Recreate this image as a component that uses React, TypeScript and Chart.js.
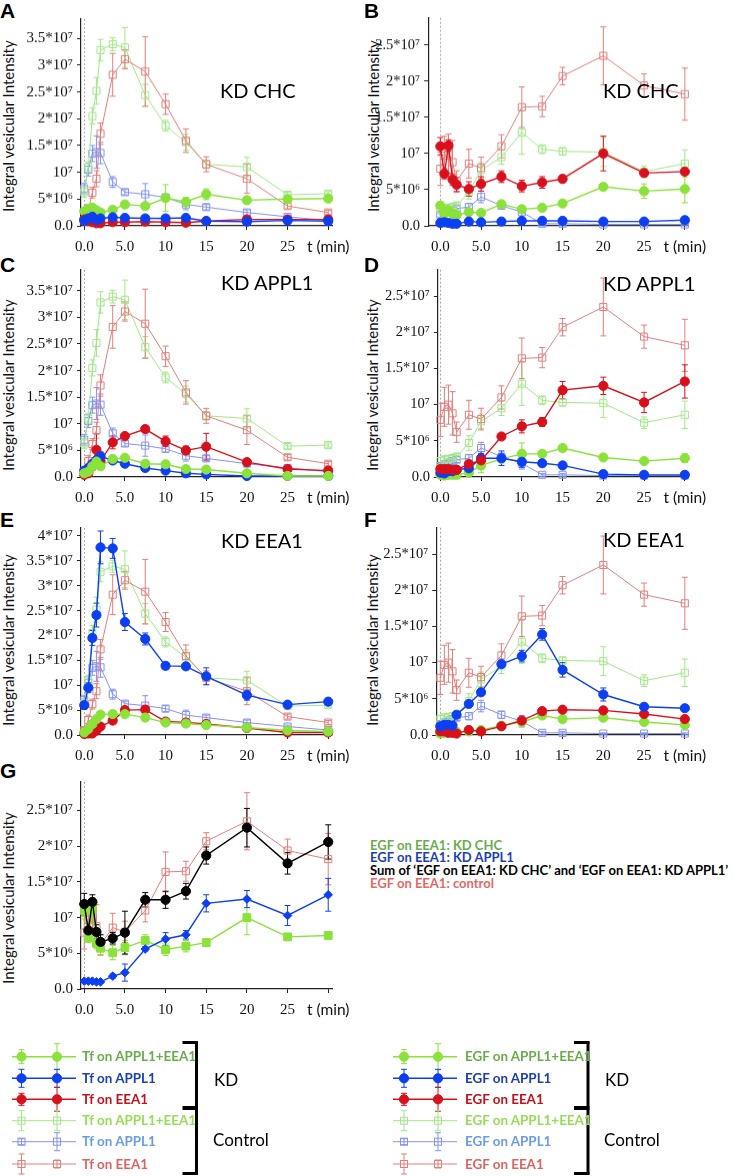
import React, { useEffect, useRef } from "react";
import { Chart, registerables } from "chart.js";
Chart.register(...registerables);

// ---------- data (intensities in units of 10^6) ----------
const TIMES = [0, 0.5, 1, 1.5, 2, 3.5, 5, 7.5, 10, 12.5, 15, 20, 25, 30];
const X_TICKS = [0, 5, 10, 15, 20, 25, 30];
const X_TICK_LABELS = ["0.0", "5.0", "10", "15", "20", "25", "t (min)"];
const Y_TICK_VALUES = [0, 5, 10, 15, 20, 25, 30, 35, 40];
const Y_TICK_LABELS = ["0.0", "5*10⁶", "10⁷", "1.5*10⁷", "2*10⁷", "2.5*10⁷", "3*10⁷", "3.5*10⁷", "4*10⁷"];

// Tf controls
const TF_CTL_BOTH = [6.3, 11, 20.5, 25.2, 32.8, 33.9, 33.3, 24.4, 18.7, 15.6, 11.5, 11, 5.8, 6];
const TF_CTL_BOTH_ERR = [1, 1, 1.5, 2.5, 2, 1.2, 3.7, 2, 1, 1.5, 0.8, 1.8, 0.5, 0.4];
const TF_CTL_APPL1 = [7, 10.5, 13.5, 13.8, 13.6, 8.2, 6.3, 5.9, 5.3, 4, 3.5, 2.5, 1.7, 1];
const TF_CTL_APPL1_ERR = [1, 1.2, 1.5, 3, 2, 1, 0.5, 2, 0.6, 1, 0.5, 0.5, 0.3, 0.3];
const TF_CTL_EEA1 = [1, 3, 6.2, 8.8, 17.2, 28.2, 31.1, 28.8, 22.7, 15.9, 11.5, 8.8, 3.7, 2.5];
const TF_CTL_EEA1_ERR = [0.5, 1, 1, 1.5, 2, 4, 1.8, 6.5, 1.9, 2.2, 1.4, 2.7, 0.5, 0.4];
// Tf KD CHC
const TF_CHC_BOTH = [2.7, 3.2, 3.4, 2.9, 2.5, 3.0, 4.0, 3.7, 5.2, 4.5, 5.9, 4.8, 5.0, 5.1];
const TF_CHC_BOTH_ERR = [0.5, 0.5, 0.5, 0.5, 0.4, 0.4, 0.4, 0.4, 2.5, 0.8, 1.0, 0.4, 0.3, 0.4];
const TF_CHC_APPL1 = [1.0, 1.4, 1.7, 1.1, 1.4, 1.6, 1.5, 1.4, 1.4, 1.5, 0.9, 0.8, 1.0, 0.9];
const TF_CHC_APPL1_ERR = [0.3, 0.3, 0.3, 0.3, 0.3, 0.3, 0.3, 0.3, 0.3, 0.3, 0.2, 0.2, 0.2, 0.2];
const TF_CHC_EEA1 = [1.2, 0.9, 0.7, 0.5, 0.5, 0.7, 0.7, 0.8, 0.7, 0.6, 0.9, 1.2, 1.2, 1.2];
const TF_CHC_EEA1_ERR = [0.2, 0.2, 0.2, 0.2, 0.2, 0.2, 0.2, 0.2, 0.2, 0.2, 0.2, 0.2, 0.2, 0.2];
// Tf KD APPL1
const TF_APPL1_BOTH = [0.7, 1.0, 2.0, 2.9, 2.0, 3.4, 3.6, 2.5, 2.4, 1.5, 1.4, 0.7, 0.2, 0.2];
const TF_APPL1_BOTH_ERR = [0.2, 0.3, 0.5, 0.6, 0.5, 0.3, 0.3, 0.3, 0.3, 0.2, 0.2, 0.2, 0.1, 0.1];
const TF_APPL1_APPL1 = [1.2, 1.7, 2.5, 3.2, 3.9, 3.1, 2.5, 1.7, 1.2, 0.7, 0.5, 0.2, 0.2, 0.2];
const TF_APPL1_APPL1_ERR = [0.2, 0.3, 0.4, 0.6, 0.8, 0.4, 0.3, 0.3, 0.2, 0.2, 0.1, 0.1, 0.1, 0.1];
const TF_APPL1_EEA1 = [0.4, 0.7, 2.0, 5.1, 3.0, 6.5, 7.7, 9.0, 6.7, 5.0, 5.7, 2.8, 1.5, 1.2];
const TF_APPL1_EEA1_ERR = [0.3, 0.3, 0.8, 3, 1, 1.2, 0.5, 0.6, 1.0, 0.8, 2.5, 0.3, 0.2, 0.2];
// Tf KD EEA1
const TF_EEA1_BOTH = [0.5, 1.2, 2.2, 3.2, 4.1, 4.2, 4.2, 3.5, 2.5, 2.3, 2.0, 1.5, 0.9, 0.7];
const TF_EEA1_BOTH_ERR = [0.2, 0.3, 0.3, 0.3, 0.3, 0.3, 0.3, 0.3, 0.3, 0.3, 0.2, 0.2, 0.2, 0.2];
const TF_EEA1_APPL1 = [6.0, 9.5, 19.5, 24.1, 37.7, 37.5, 22.7, 19.3, 13.9, 13.8, 11.8, 8.0, 6.1, 6.7];
const TF_EEA1_APPL1_ERR = [0.8, 1.0, 1.5, 2.4, 3.3, 2.0, 1.7, 1.2, 0.7, 0.6, 1.7, 1.0, 0.4, 0.4];
const TF_EEA1_EEA1 = [0.2, 0.3, 0.3, 0.9, 1.7, 2.9, 5.0, 5.1, 2.7, 2.5, 2.2, 1.4, 0.5, 0.5];
const TF_EEA1_EEA1_ERR = [0.2, 0.2, 0.2, 0.3, 0.3, 0.3, 0.4, 0.4, 0.3, 0.3, 0.2, 0.2, 0.2, 0.2];

// EGF controls
const EGF_CTL_BOTH = [2.2, 2.4, 2.5, 2.6, 2.8, 4.7, 7.7, 9.5, 12.9, 10.6, 10.3, 10.2, 7.5, 8.6];
const EGF_CTL_BOTH_ERR = [0.5, 0.5, 0.5, 0.5, 0.5, 1.0, 1.0, 1.0, 3.0, 0.6, 0.5, 2.0, 0.8, 1.9];
const EGF_CTL_APPL1 = [1.5, 1.8, 2.0, 2.2, 2.4, 2.6, 4.0, 2.8, 1.9, 0.3, 0.3, 0.2, 0.2, 0.2];
const EGF_CTL_APPL1_ERR = [0.3, 0.3, 0.3, 0.4, 0.4, 0.5, 0.8, 0.5, 0.8, 0.2, 0.2, 0.1, 0.1, 0.1];
const EGF_CTL_EEA1 = [7.9, 9.7, 10.0, 8.8, 6.2, 8.6, 8.0, 11.0, 16.4, 16.5, 20.7, 23.5, 19.4, 18.2];
const EGF_CTL_EEA1_ERR = [2.3, 2.7, 2.7, 3.0, 1.4, 2.0, 1.5, 1.6, 2.8, 1.4, 1.2, 4.0, 1.6, 3.6];
// EGF KD CHC
const EGF_CHC_BOTH = [2.8, 1.7, 2.2, 1.7, 1.5, 1.9, 1.8, 3.0, 2.3, 2.5, 3.1, 5.4, 4.8, 5.1];
const EGF_CHC_BOTH_ERR = [0.5, 0.5, 0.5, 0.5, 0.3, 0.3, 0.3, 0.3, 0.3, 0.3, 0.3, 0.3, 1.0, 1.9];
const EGF_CHC_APPL1 = [0.4, 0.5, 0.4, 0.3, 0.3, 0.6, 0.5, 0.6, 0.7, 0.7, 0.7, 0.6, 0.6, 0.8];
const EGF_CHC_APPL1_ERR = [0.2, 0.2, 0.2, 0.2, 0.2, 0.2, 0.2, 0.2, 0.2, 0.2, 0.2, 0.2, 0.2, 0.5];
const EGF_CHC_EEA1 = [11.0, 7.2, 11.1, 6.4, 5.7, 5.1, 5.8, 6.8, 5.5, 6.0, 6.5, 10.0, 7.3, 7.5];
const EGF_CHC_EEA1_ERR = [1.2, 0.7, 0.8, 0.8, 1.0, 1.0, 1.0, 0.8, 0.8, 0.8, 0.5, 2.4, 0.4, 0.5];
// EGF KD APPL1
const EGF_APPL1_BOTH = [0.3, 0.2, 0.3, 0.3, 0.3, 0.6, 1.6, 2.5, 3.2, 3.2, 4.0, 2.7, 2.2, 2.6];
const EGF_APPL1_BOTH_ERR = [0.1, 0.1, 0.1, 0.1, 0.1, 0.2, 1.0, 0.3, 1.5, 0.3, 0.3, 0.3, 0.3, 0.6];
const EGF_APPL1_APPL1 = [0.6, 0.5, 0.8, 0.8, 1.0, 1.2, 2.6, 2.6, 2.1, 1.9, 1.6, 0.4, 0.3, 0.3];
const EGF_APPL1_APPL1_ERR = [0.2, 0.2, 0.2, 0.2, 0.2, 0.3, 0.6, 1.0, 0.8, 0.4, 0.3, 0.1, 0.1, 0.1];
const EGF_APPL1_EEA1 = [1.1, 1.1, 1.1, 1.0, 1.0, 1.8, 2.3, 5.6, 7.0, 7.6, 12.0, 12.6, 10.3, 13.2];
const EGF_APPL1_EEA1_ERR = [0.2, 0.2, 0.2, 0.2, 0.2, 0.3, 1.2, 0.3, 0.9, 0.6, 1.2, 1.2, 1.4, 2.3];
// EGF KD EEA1
const EGF_EEA1_BOTH = [0.2, 0.3, 0.4, 0.4, 0.4, 0.5, 0.7, 1.3, 1.8, 2.7, 2.2, 2.4, 1.8, 1.4];
const EGF_EEA1_BOTH_ERR = [0.1, 0.1, 0.1, 0.1, 0.1, 0.1, 0.2, 0.3, 0.6, 0.3, 0.3, 0.3, 0.3, 0.3];
const EGF_EEA1_APPL1 = [1.2, 1.4, 1.4, 1.3, 2.8, 4.3, 5.9, 9.8, 10.9, 13.9, 9.0, 5.6, 3.9, 3.7];
const EGF_EEA1_APPL1_ERR = [0.3, 0.3, 0.3, 0.3, 0.3, 0.3, 0.4, 0.4, 0.8, 0.8, 1.0, 0.9, 0.3, 0.3];
const EGF_EEA1_EEA1 = [0.5, 0.5, 0.3, 0.3, 0.2, 0.7, 0.5, 1.2, 2.0, 3.3, 3.5, 3.4, 2.9, 2.2];
const EGF_EEA1_EEA1_ERR = [0.1, 0.1, 0.1, 0.1, 0.1, 0.2, 0.2, 0.2, 0.3, 0.3, 0.3, 0.3, 0.3, 0.3];
// Panel G: sum of KD CHC and KD APPL1 (EGF on EEA1)
const EGF_SUM = [11.9, 8.2, 12.2, 8.0, 6.6, 7.1, 7.9, 12.5, 12.5, 13.7, 18.7, 22.6, 17.6, 20.6];
const EGF_SUM_ERR = [1.5, 1.0, 1.0, 1.0, 1.0, 0.8, 3.0, 1.0, 1.2, 1.1, 1.2, 2.7, 1.5, 2.4];

// ---------- styles ----------
const C_KD_BOTH = "#8ae23a";
const C_KD_APPL1 = "#0d3ff2";
const C_KD_EEA1 = "#d8101c";
const C_CTL_BOTH = "#a2e889";
const C_CTL_APPL1 = "#8592ef";
const C_CTL_EEA1 = "#e27f7c";
const C_SUM = "#000000";
const SERIF = "'Liberation Serif', 'Times New Roman', serif";
const SANS = "Lato, 'Open Sans', sans-serif";

type Kind = "kd" | "ctl" | "sq" | "dia";
function ds(values: number[], errors: number[], color: string, kind: Kind) {
  const base: any = {
    data: TIMES.map((t, i) => ({ x: t, y: values[i] })),
    errors,
    borderColor: color,
    clip: false,
    tension: 0,
    pointBorderColor: color,
    pointBorderWidth: 1,
  };
  if (kind === "kd") Object.assign(base, { pointStyle: "circle", pointRadius: 4.6, pointBackgroundColor: color, borderWidth: 1.4 });
  if (kind === "ctl") Object.assign(base, { pointStyle: "rect", pointRadius: 5, pointBackgroundColor: "rgba(255,255,255,0)", borderWidth: 1 });
  if (kind === "sq") Object.assign(base, { pointStyle: "rect", pointRadius: 5.5, pointBackgroundColor: color, borderWidth: 1.4 });
  if (kind === "dia") Object.assign(base, { pointStyle: "rectRot", pointRadius: 4.3, pointBackgroundColor: color, borderWidth: 1.4 });
  return base;
}

const tfControls = () => [
  ds(TF_CTL_EEA1, TF_CTL_EEA1_ERR, C_CTL_EEA1, "ctl"),
  ds(TF_CTL_BOTH, TF_CTL_BOTH_ERR, C_CTL_BOTH, "ctl"),
  ds(TF_CTL_APPL1, TF_CTL_APPL1_ERR, C_CTL_APPL1, "ctl"),
];
const egfControls = () => [
  ds(EGF_CTL_EEA1, EGF_CTL_EEA1_ERR, C_CTL_EEA1, "ctl"),
  ds(EGF_CTL_BOTH, EGF_CTL_BOTH_ERR, C_CTL_BOTH, "ctl"),
  ds(EGF_CTL_APPL1, EGF_CTL_APPL1_ERR, C_CTL_APPL1, "ctl"),
];

const PANELS = [
  { id: "A", cx: 20, cw: 348, plotLeft: 81, plotRight: 332.3, plotTop: 18, plotBottom: 225.7, xMin: -0.4, xMax: 30.5, yMax: 38.6, fs: 15,
    datasets: () => [ds(TF_CHC_APPL1, TF_CHC_APPL1_ERR, C_KD_APPL1, "kd"), ds(TF_CHC_EEA1, TF_CHC_EEA1_ERR, C_KD_EEA1, "kd"), ds(TF_CHC_BOTH, TF_CHC_BOTH_ERR, C_KD_BOTH, "kd"), ...tfControls()] },
  { id: "B", cx: 340, cw: 396, plotLeft: 428.1, plotRight: 688.1, plotTop: 17, plotBottom: 225.7, xMin: -1.5, xMax: 30.4, yMax: 28.75, fs: 14.5,
    datasets: () => [ds(EGF_CHC_EEA1, EGF_CHC_EEA1_ERR, C_KD_EEA1, "kd"), ds(EGF_CHC_APPL1, EGF_CHC_APPL1_ERR, C_KD_APPL1, "kd"), ds(EGF_CHC_BOTH, EGF_CHC_BOTH_ERR, C_KD_BOTH, "kd"), ...egfControls()] },
  { id: "C", cx: 20, cw: 348, plotLeft: 81, plotRight: 332.3, plotTop: 269.3, plotBottom: 477.3, xMin: -0.4, xMax: 30.5, yMax: 38.9, fs: 15,
    datasets: () => [ds(TF_APPL1_BOTH, TF_APPL1_BOTH_ERR, C_KD_BOTH, "kd"), ds(TF_APPL1_APPL1, TF_APPL1_APPL1_ERR, C_KD_APPL1, "kd"), ds(TF_APPL1_EEA1, TF_APPL1_EEA1_ERR, C_KD_EEA1, "kd"), ...tfControls()] },
  { id: "D", cx: 340, cw: 396, plotLeft: 437.9, plotRight: 688.1, plotTop: 269.3, plotBottom: 477.3, xMin: -0.3, xMax: 30.4, yMax: 28.65, fs: 14.5,
    datasets: () => [ds(EGF_APPL1_EEA1, EGF_APPL1_EEA1_ERR, C_KD_EEA1, "kd"), ds(EGF_APPL1_APPL1, EGF_APPL1_APPL1_ERR, C_KD_APPL1, "kd"), ds(EGF_APPL1_BOTH, EGF_APPL1_BOTH_ERR, C_KD_BOTH, "kd"), ...egfControls()] },
  { id: "E", cx: 20, cw: 348, plotLeft: 81, plotRight: 332.3, plotTop: 526.7, plotBottom: 734.7, xMin: -0.4, xMax: 30.5, yMax: 41.6, fs: 15,
    datasets: () => [ds(TF_EEA1_APPL1, TF_EEA1_APPL1_ERR, C_KD_APPL1, "kd"), ds(TF_EEA1_BOTH, TF_EEA1_BOTH_ERR, C_KD_BOTH, "kd"), ds(TF_EEA1_EEA1, TF_EEA1_EEA1_ERR, C_KD_EEA1, "kd"), ...tfControls()] },
  { id: "F", cx: 340, cw: 396, plotLeft: 436.2, plotRight: 688.1, plotTop: 526.7, plotBottom: 735, xMin: -0.5, xMax: 30.4, yMax: 28.65, fs: 14.5,
    datasets: () => [ds(EGF_EEA1_APPL1, EGF_EEA1_APPL1_ERR, C_KD_APPL1, "kd"), ds(EGF_EEA1_EEA1, EGF_EEA1_EEA1_ERR, C_KD_EEA1, "kd"), ds(EGF_EEA1_BOTH, EGF_EEA1_BOTH_ERR, C_KD_BOTH, "kd"), ...egfControls()] },
  { id: "G", cx: 20, cw: 348, plotLeft: 81, plotRight: 332.3, plotTop: 780.7, plotBottom: 989.3, xMin: -0.4, xMax: 30.5, yMax: 29.0, fs: 15,
    datasets: () => [ds(EGF_SUM, EGF_SUM_ERR, C_SUM, "kd"), ds(EGF_APPL1_EEA1, EGF_APPL1_EEA1_ERR, C_KD_APPL1, "dia"), ds(EGF_CHC_EEA1, EGF_CHC_EEA1_ERR, C_KD_BOTH, "sq"), ds(EGF_CTL_EEA1, EGF_CTL_EEA1_ERR, C_CTL_EEA1, "ctl")] },
];

const errorBarPlugin = {
  id: "errbars",
  beforeDatasetsDraw(chart: any) {
    const ctx = chart.ctx;
    const xs = chart.scales.x, ys = chart.scales.y;
    const sets = chart.data.datasets;
    for (let d = sets.length - 1; d >= 0; d--) {
      const s = sets[d];
      if (!s.errors) continue;
      ctx.save();
      ctx.strokeStyle = s.borderColor;
      ctx.lineWidth = 1;
      s.data.forEach((p: any, i: number) => {
        const e = s.errors[i];
        if (!e) return;
        const px = xs.getPixelForValue(p.x);
        const top = ys.getPixelForValue(p.y + e);
        const bot = ys.getPixelForValue(Math.max(p.y - e, 0));
        ctx.beginPath();
        ctx.moveTo(px, top); ctx.lineTo(px, bot);
        ctx.moveTo(px - 3, top); ctx.lineTo(px + 3, top);
        ctx.moveTo(px - 3, bot); ctx.lineTo(px + 3, bot);
        ctx.stroke();
      });
      ctx.restore();
    }
  },
};

const zeroLinePlugin = {
  id: "zeroline",
  beforeDatasetsDraw(chart: any) {
    const ctx = chart.ctx;
    const x = chart.scales.x.getPixelForValue(0);
    const a = chart.chartArea;
    ctx.save();
    ctx.strokeStyle = "#a8a8a8";
    ctx.lineWidth = 1;
    ctx.setLineDash([2, 2]);
    ctx.beginPath();
    ctx.moveTo(Math.round(x) + 0.5, a.top);
    ctx.lineTo(Math.round(x) + 0.5, a.bottom);
    ctx.stroke();
    ctx.restore();
  },
};

function Panel({ p }: { p: any }) {
  const ref = useRef<HTMLCanvasElement>(null);
  const cy = p.plotTop - 12;
  const ch = p.plotBottom + 34 - cy;
  useEffect(() => {
    const chart = new Chart(ref.current as HTMLCanvasElement, {
      type: "line",
      data: { datasets: p.datasets() },
      options: {
        responsive: false,
        animation: false,
        devicePixelRatio: 1,
        layout: { padding: { left: 0, top: p.plotTop - cy, right: p.cx + p.cw - p.plotRight, bottom: 0 } },
        plugins: { legend: { display: false }, tooltip: { enabled: false } },
        scales: {
          x: {
            type: "linear",
            min: p.xMin,
            max: p.xMax,
            afterFit: (s: any) => { s.height = cy + ch - p.plotBottom; },
            afterBuildTicks: (s: any) => { s.ticks = X_TICKS.map((v) => ({ value: v })); },
            grid: { drawOnChartArea: false, drawTicks: true, tickLength: 4, tickColor: "#222", lineWidth: 1 },
            border: { display: true, color: "#222", width: 1.2 },
            ticks: {
              autoSkip: false,
              maxRotation: 0,
              padding: 8,
              color: "#111",
              font: (ctx: any) => (ctx.tick && ctx.tick.value === 30 ? { family: SANS, size: 15.5 } : { family: SERIF, size: 15 }),
              callback: (v: any) => X_TICK_LABELS[X_TICKS.indexOf(Number(v))],
            },
          },
          y: {
            type: "linear",
            min: 0,
            max: p.yMax,
            afterFit: (s: any) => { s.width = p.plotLeft - p.cx; },
            afterBuildTicks: (s: any) => { s.ticks = Y_TICK_VALUES.filter((v) => v <= p.yMax).map((v) => ({ value: v })); },
            grid: { drawOnChartArea: false, drawTicks: true, tickLength: 4, tickColor: "#222", lineWidth: 1 },
            border: { display: true, color: "#222", width: 1.2 },
            ticks: {
              autoSkip: false,
              padding: 4,
              color: "#111",
              font: { family: SERIF, size: p.fs },
              callback: (v: any) => Y_TICK_LABELS[Y_TICK_VALUES.indexOf(Number(v))],
            },
          },
        },
      } as any,
      plugins: [zeroLinePlugin, errorBarPlugin],
    });
    return () => chart.destroy();
  }, []);
  return (
    <canvas
      ref={ref}
      width={p.cw}
      height={ch}
      style={{ position: "absolute", left: p.cx, top: cy, width: p.cw, height: ch }}
    />
  );
}

// ---------- text overlays ----------
const LETTERS = [
  { t: "A", x: 0, y: 0 }, { t: "B", x: 364, y: 0 },
  { t: "C", x: 0, y: 254 }, { t: "D", x: 364, y: 254 },
  { t: "E", x: 0, y: 509 }, { t: "F", x: 364, y: 509 },
  { t: "G", x: 0, y: 760 },
];
const TITLES = [
  { t: "KD CHC", x: 220, y: 90 }, { t: "KD CHC", x: 603, y: 90 },
  { t: "KD APPL1", x: 221, y: 282 }, { t: "KD APPL1", x: 603, y: 283 },
  { t: "KD EEA1", x: 221, y: 540 }, { t: "KD EEA1", x: 603, y: 539 },
];
const YTITLES = [
  { x: 8, y: 126 }, { x: 373, y: 126 },
  { x: 8, y: 385 }, { x: 372, y: 385 },
  { x: 8, y: 640 }, { x: 372, y: 640 },
  { x: 8, y: 898 },
];
const G_LEGEND = [
  { t: "EGF on EEA1: KD CHC", c: "#6aac4c", y: 845.7 },
  { t: "EGF on EEA1: KD APPL1", c: "#1c3fb0", y: 858.2 },
  { t: "Sum of ‘EGF on EEA1: KD CHC’ and ‘EGF on EEA1: KD APPL1’", c: "#000", y: 871.3 },
  { t: "EGF on EEA1: control", c: "#e06a66", y: 884.2 },
];
const LEG_ROWS_Y = [1056.7, 1078.3, 1099.3, 1120.7, 1141.7, 1164];
const LEG_TF = ["Tf on APPL1+EEA1", "Tf on APPL1", "Tf on EEA1", "Tf on APPL1+EEA1", "Tf on APPL1", "Tf on EEA1"];
const LEG_EGF = ["EGF on APPL1+EEA1", "EGF on APPL1", "EGF on EEA1", "EGF on APPL1+EEA1", "EGF on APPL1", "EGF on EEA1"];
const LEG_TEXT_COLORS = ["#6aac4c", "#1c3fb0", "#c0121c", "#98dc5a", "#6a9ce6", "#d96464"];
const LEG_MARK_COLORS = [C_KD_BOTH, C_KD_APPL1, C_KD_EEA1, C_CTL_BOTH, C_CTL_APPL1, C_CTL_EEA1];
const LEG_ERR_1 = [7, 9, 6, 10, 3, 10];
const LEG_ERR_2 = [13, 9, 12, 10, 9, 4];

function LegendSamples({ x1, x2, m1, m2 }: { x1: number; x2: number; m1: number; m2: number }) {
  return (
    <g>
      {LEG_ROWS_Y.map((y, i) => {
        const c = LEG_MARK_COLORS[i];
        const kd = i < 3;
        const marks = [[m1, LEG_ERR_1[i]], [m2, LEG_ERR_2[i]]];
        return (
          <g key={i}>
            <line x1={x1} y1={y} x2={x2} y2={y} stroke={c} strokeWidth={kd ? 1.5 : 1} />
            {marks.map(([mx, e], j) => (
              <g key={j} stroke={c} strokeWidth={1}>
                <line x1={mx} y1={y - e} x2={mx} y2={y + e} />
                <line x1={mx - 3} y1={y - e} x2={mx + 3} y2={y - e} />
                <line x1={mx - 3} y1={y + e} x2={mx + 3} y2={y + e} />
                {kd ? (
                  <circle cx={mx} cy={y} r={4.6} fill={c} />
                ) : (
                  <rect x={mx - 3.5} y={y - 3.5} width={7} height={7} fill="none" />
                )}
              </g>
            ))}
          </g>
        );
      })}
    </g>
  );
}

function Bracket({ x, hook }: { x: number; hook: number }) {
  return (
    <g stroke="#000" fill="none">
      <line x1={x} y1={1041.5} x2={x} y2={1174.5} strokeWidth={3} />
      <line x1={x - hook} y1={1042.5} x2={x + 1.5} y2={1042.5} strokeWidth={3} />
      <line x1={x - hook} y1={1108} x2={x + 1.5} y2={1108} strokeWidth={4} />
      <line x1={x - hook} y1={1173.5} x2={x + 1.5} y2={1173.5} strokeWidth={3} />
    </g>
  );
}

export default function App() {
  const abs = (extra: any) => ({ position: "absolute" as const, whiteSpace: "nowrap" as const, ...extra });
  return (
    <div style={{ position: "absolute", left: 0, top: 0, width: 736, height: 1176, background: "#fff", overflow: "hidden" }}>
      {YTITLES.map((t, i) => (
        <div key={"yt" + i} style={abs({ left: t.x - 100, top: t.y - 9, width: 200, height: 18, lineHeight: "18px", textAlign: "center", transform: "rotate(-90deg)", font: `15px ${SANS}`, color: "#111" })}>
          Integral vesicular Intensity
        </div>
      ))}
      {PANELS.map((p) => (
        <Panel key={p.id} p={p} />
      ))}
      {LETTERS.map((l) => (
        <div key={l.t} style={abs({ left: l.x, top: l.y, font: `bold 21px 'Liberation Sans', Arial, sans-serif`, lineHeight: "21px", color: "#000" })}>{l.t}</div>
      ))}
      {TITLES.map((t, i) => (
        <div key={"ti" + i} style={abs({ left: t.x, top: t.y - 10.5, font: `20px ${SANS}`, lineHeight: "20px", color: "#000" })}>{t.t}</div>
      ))}
      {G_LEGEND.map((g, i) => (
        <div key={"gl" + i} style={abs({ left: 370, top: g.y - 7, font: `bold 13px ${SANS}`, lineHeight: "13px", color: g.c })}>{g.t}</div>
      ))}
      <svg width={736} height={1176} style={{ position: "absolute", left: 0, top: 0, pointerEvents: "none" }}>
        <LegendSamples x1={12} x2={76} m1={21.5} m2={57} />
        <LegendSamples x1={393} x2={457} m1={404} m2={438} />
        <Bracket x={196.5} hook={14} />
        <Bracket x={588} hook={14} />
      </svg>
      {LEG_TF.map((t, i) => (
        <div key={"lt" + i} style={abs({ left: 82, top: LEG_ROWS_Y[i] - 7.5, font: `bold 13.4px ${SANS}`, lineHeight: "14px", color: LEG_TEXT_COLORS[i] })}>{t}</div>
      ))}
      {LEG_EGF.map((t, i) => (
        <div key={"le" + i} style={abs({ left: 465, top: LEG_ROWS_Y[i] - 7.5, font: `bold 13.4px ${SANS}`, lineHeight: "14px", color: LEG_TEXT_COLORS[i] })}>{t}</div>
      ))}
      <div style={abs({ left: 214, top: 1071, font: `17px ${SANS}`, lineHeight: "17px" })}>KD</div>
      <div style={abs({ left: 213, top: 1131, font: `17px ${SANS}`, lineHeight: "17px" })}>Control</div>
      <div style={abs({ left: 605, top: 1071, font: `17px ${SANS}`, lineHeight: "17px" })}>KD</div>
      <div style={abs({ left: 604, top: 1131, font: `17px ${SANS}`, lineHeight: "17px" })}>Control</div>
    </div>
  );
}
